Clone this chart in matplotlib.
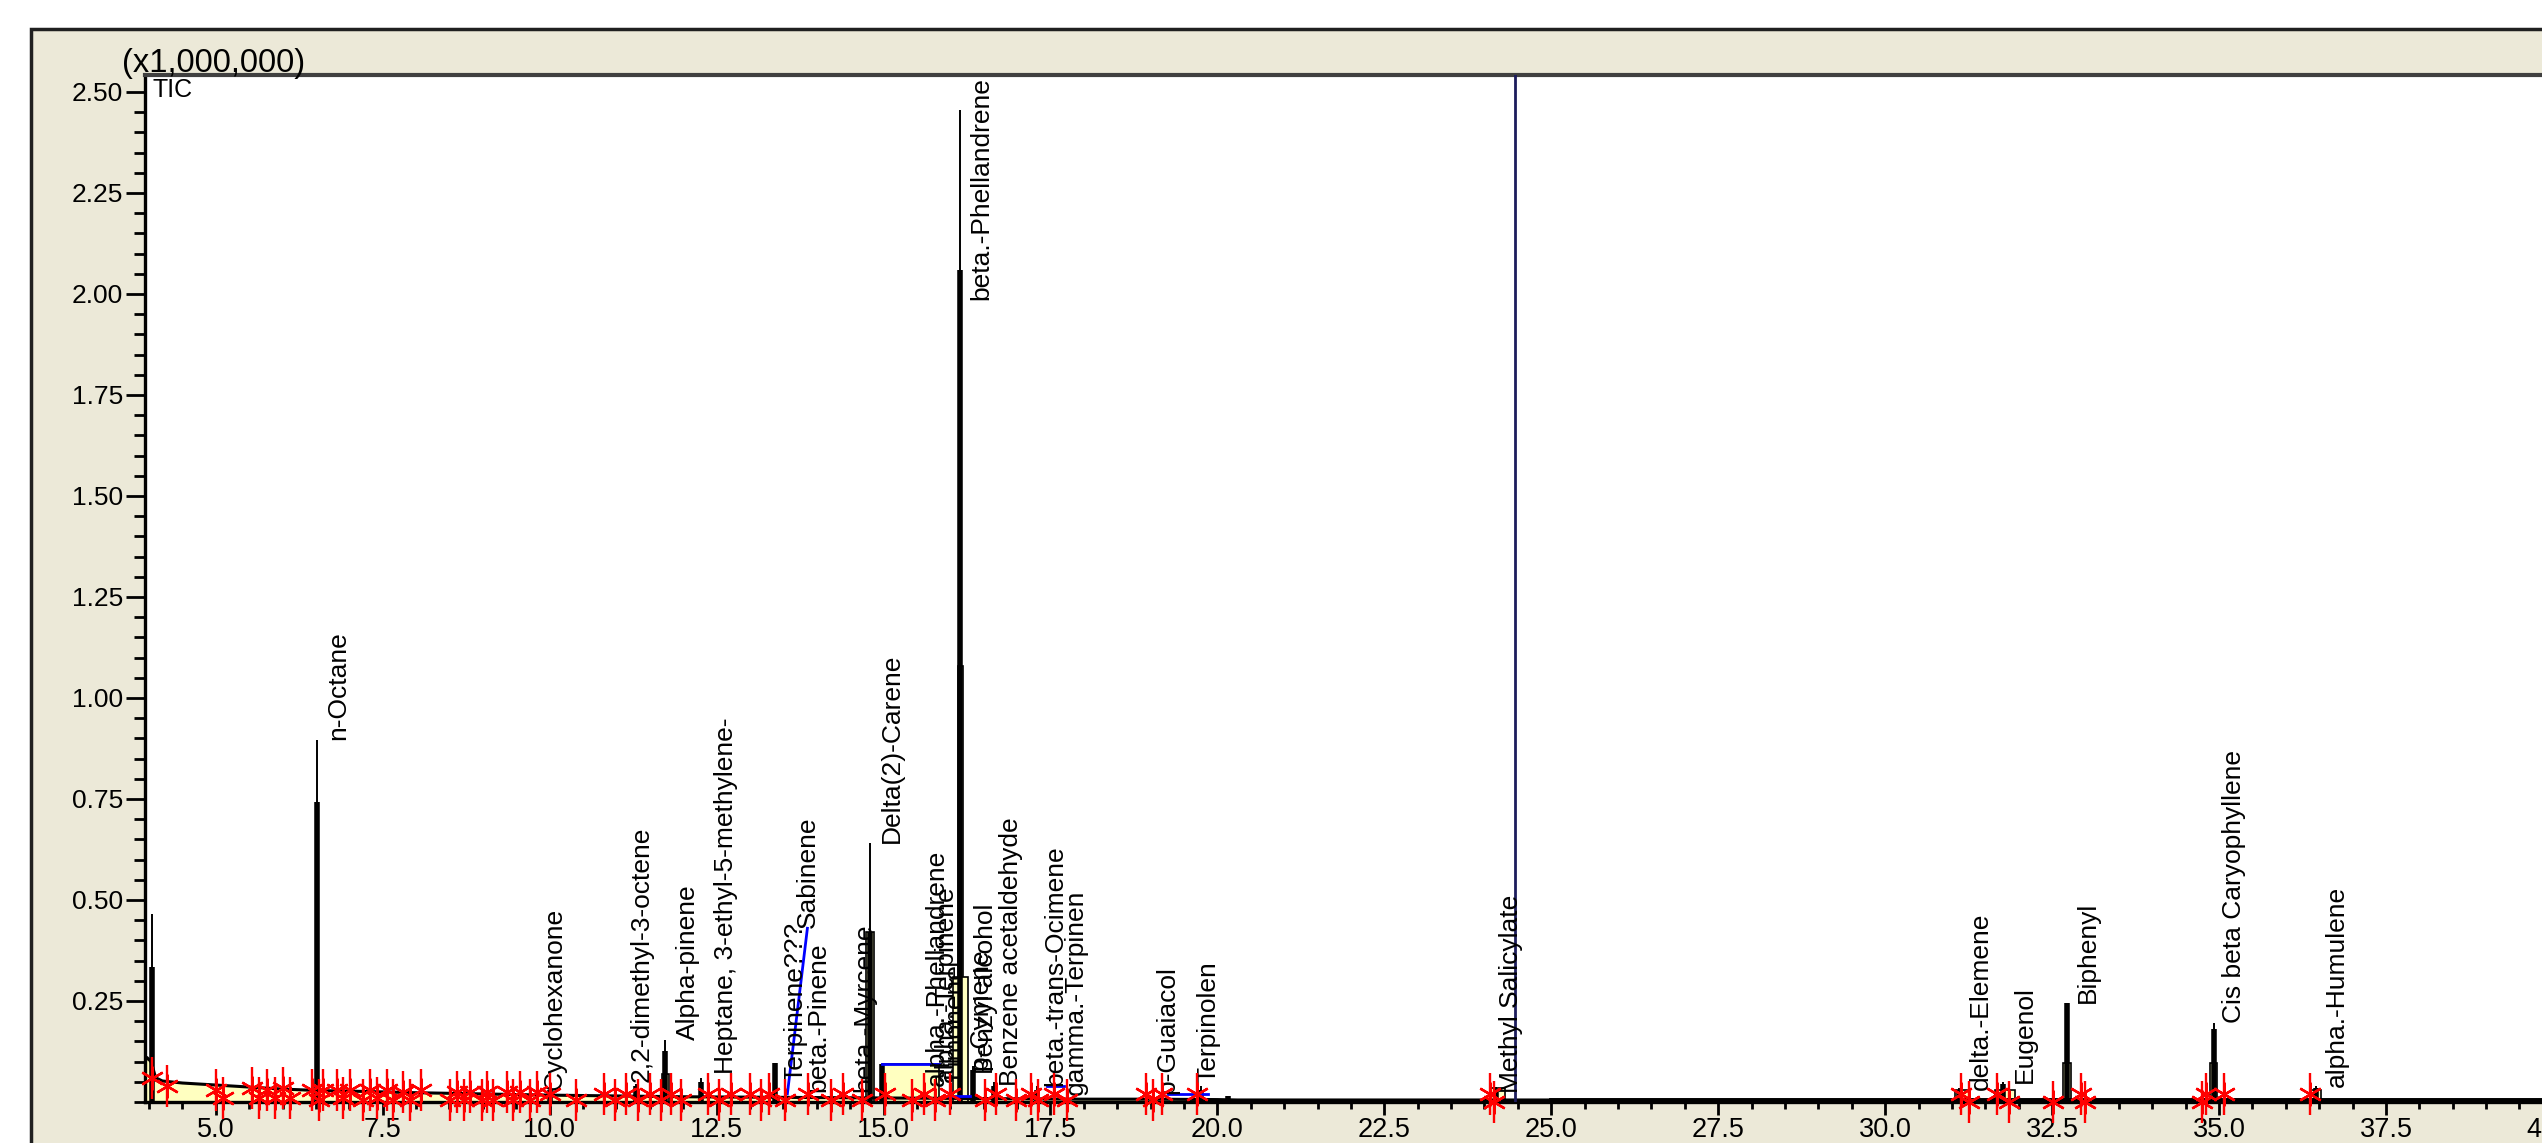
import matplotlib
matplotlib.use("Agg")
import matplotlib.pyplot as plt
from matplotlib.patches import Rectangle
from matplotlib.ticker import FixedLocator, MultipleLocator, FormatStrFormatter

plt.rcParams['font.family'] = ['Liberation Sans', 'DejaVu Sans']

# TIC baseline (retention time in min, intensity in millions)
base_t = [3.94, 3.97, 4.03, 4.10, 4.20, 4.50, 5.00, 5.50, 6.00, 6.60, 7.00, 8.00,
          9.00, 10.00, 11.00, 12.00, 13.00, 14.00, 15.00, 16.00, 17.00, 18.00,
          19.00, 20.00, 20.30, 22.50, 24.00, 25.00, 28.00, 30.00, 35.00, 40.60]
base_v = [0.100, 0.110, 0.100, 0.060, 0.052, 0.047, 0.042, 0.037, 0.032, 0.028, 0.027, 0.023,
          0.020, 0.017, 0.015, 0.013, 0.012, 0.011, 0.010, 0.009, 0.008, 0.007,
          0.007, 0.006, 0.005, 0.005, 0.005, 0.005, 0.005, 0.005, 0.005, 0.005]

# peaks: apex and the thick lower part of each spike
peak_t = [4.05, 6.52, 10.00, 11.30, 11.73, 12.27, 13.38, 14.80, 14.97, 16.15, 16.34,
          16.66, 17.30, 19.75, 20.16, 24.17, 31.11, 31.76, 32.72, 34.92, 36.46]
peak_apex = [0.465, 0.896, 0.030, 0.045, 0.153, 0.060, 0.096, 0.640, 0.094, 2.455, 0.090,
             0.050, 0.040, 0.040, 0.015, 0.037, 0.035, 0.050, 0.245, 0.195, 0.040]
peak_body = [0.335, 0.742, 0.030, 0.040, 0.125, 0.050, 0.096, 0.420, 0.094, 2.060, 0.080,
             0.040, 0.030, 0.030, 0.015, 0.030, 0.030, 0.045, 0.245, 0.180, 0.035]

# integrated areas (yellow)
area_t = [11.73, 14.80, 15.405, 16.15, 16.15, 24.20, 31.15, 31.80, 32.72, 34.92, 36.45]
area_h = [0.070, 0.420, 0.094, 1.080, 0.310, 0.035, 0.030, 0.030, 0.096, 0.096, 0.030]
area_w = [0.10, 0.12, 0.85, 0.08, 0.22, 0.20, 0.20, 0.30, 0.12, 0.10, 0.15]

# blue baseline segments
blue_t0 = [13.56, 14.98, 15.95, 17.45, 19.26]
blue_v0 = [0.020, 0.094, 0.015, 0.040, 0.020]
blue_t1 = [13.86, 15.83, 16.30, 17.70, 19.86]
blue_v1 = [0.430, 0.094, 0.015, 0.040, 0.020]

# peak start / end marks
mark_t = [4.04, 4.27, 5.01, 5.11, 5.54, 5.64, 5.76, 5.89, 6.01, 6.11, 6.44, 6.54, 6.61,
          6.81, 6.91, 7.01, 7.21, 7.31, 7.41, 7.56, 7.66, 7.81, 7.91, 8.08, 8.51, 8.61,
          8.71, 8.81, 8.98, 9.06, 9.15, 9.36, 9.45, 9.56, 9.71, 9.81, 10.00, 10.40,
          10.81, 10.98, 11.15, 11.33, 11.50, 11.67, 11.82, 11.96, 12.37, 12.54, 12.71,
          13.00, 13.17, 13.29, 13.52, 13.87, 14.21, 14.39, 14.68, 15.02, 15.42, 15.60,
          15.77, 16.00, 16.52, 16.69, 16.98, 17.21, 17.32, 17.55, 17.75, 18.93, 19.03,
          19.17, 19.70, 24.09, 24.14, 31.14, 31.25, 31.68, 31.85, 32.51, 32.94, 33.00,
          34.74, 34.80, 35.07, 36.37]
mark_v = [0.060, 0.040, 0.030, 0.010, 0.035, 0.010, 0.030, 0.010, 0.035, 0.010, 0.030, 0.005, 0.030,
          0.030, 0.010, 0.030, 0.005, 0.030, 0.010, 0.030, 0.005, 0.025, 0.005, 0.030, 0.005, 0.025,
          0.005, 0.025, 0.005, 0.025, 0.005, 0.025, 0.005, 0.025, 0.005, 0.025, 0.020, 0.005,
          0.020, 0.005, 0.020, 0.005, 0.020, 0.005, 0.020, 0.005, 0.020, 0.005, 0.020,
          0.020, 0.005, 0.020, 0.005, 0.020, 0.005, 0.020, 0.005, 0.020, 0.005, 0.020,
          0.005, 0.020, 0.005, 0.020, 0.005, 0.020, 0.005, 0.020, 0.005, 0.020, 0.005,
          0.020, 0.020, 0.020, 0.000, 0.020, 0.000, 0.020, 0.000, 0.000, 0.020, 0.000,
          0.000, 0.020, 0.020, 0.020]

# compound labels: text centre (min) and bottom of text (intensity)
label_name = ["n-Octane", "Cyclohexanone", "2,2-dimethyl-3-octene", "Alpha-pinene",
              "Heptane, 3-ethyl-5-methylene-", "Terpinene???", "Sabinene", "beta.-Pinene",
              "beta.-Myrcene", "Delta(2)-Carene", "alpha.-Phellandrene", "alpha.-Terpinene",
              "Limonene", "beta.-Phellandrene", "p-Cymene", "Benzyl alcohol",
              "Benzene acetaldehyde", "beta.-trans-Ocimene", "gamma.-Terpinen", "p-Guaiacol",
              "Terpinolen", "Methyl Salicylate", "delta.-Elemene", "Eugenol", "Biphenyl",
              "Cis beta Caryophyllene", "alpha.-Humulene"]
label_t = [6.83, 10.08, 11.38, 12.07, 12.64, 13.68, 13.87, 14.02, 14.71, 15.12, 15.80, 15.93,
           16.05, 16.46, 16.45, 16.54, 16.91, 17.57, 17.88, 19.25, 19.87, 24.40, 31.43, 32.10,
           33.03, 35.23, 36.77]
label_v = [0.896, 0.030, 0.050, 0.153, 0.070, 0.050, 0.430, 0.025, 0.025, 0.640, 0.040, 0.050,
           0.060, 1.985, 0.080, 0.070, 0.040, 0.040, 0.018, 0.020, 0.046, 0.022, 0.030, 0.046,
           0.245, 0.195, 0.037]

yellow = '#FFFFC0'

fig = plt.figure(figsize=(25.42, 11.43), dpi=100)
fig.patch.set_facecolor('white')
panel = Rectangle((0.0122, -0.05), 1.1, 1.0246, transform=fig.transFigure,
                  facecolor='#ECE9D8', edgecolor='#202020', linewidth=2.5, zorder=-10)
fig.add_artist(panel)

ax = fig.add_axes([0.05704, 0.03587, 0.9630, 0.8985])
ax.set_zorder(1)
ax.set_facecolor('white')

# filled area under the early baseline
early = [i for i, t in enumerate(base_t) if t <= 20.3]
ax.fill_between([base_t[i] for i in early], 0, [base_v[i] for i in early],
                color=yellow, zorder=1, linewidth=0)
ax.plot(base_t, base_v, color='black', lw=2.2, zorder=3)
late_t = [t for t in base_t if t >= 24.6]
ax.plot(late_t, [0.004] * len(late_t), color='black', lw=3.5, zorder=3)

ax.bar(area_t, area_h, width=area_w, color=yellow, edgecolor='black', linewidth=1.2, zorder=2)

ax.vlines(peak_t, 0, peak_body, color='black', lw=4, zorder=4)
ax.vlines(peak_t, 0, peak_apex, color='black', lw=1.4, zorder=4)

for t0, v0, t1, v1 in zip(blue_t0, blue_v0, blue_t1, blue_v1):
    ax.plot([t0, t1], [v0, v1], color='#0000FF', lw=2, zorder=5)

# Methyl Salicylate trace (off scale)
ax.axvline(24.45, color='#1C1C5C', lw=2, zorder=5)

for name, t, v in zip(label_name, label_t, label_v):
    ax.text(t, v, name, rotation=90, ha='center', va='bottom', fontsize=19,
            color='black', zorder=6)

ax.plot(mark_t, mark_v, linestyle='none', marker='|', markersize=30, mew=1.7,
        color='#FF0000', zorder=7, clip_on=False)
ax.plot(mark_t, mark_v, linestyle='none', marker=(6, 2, 0), markersize=17, mew=1.7,
        color='#FF0000', zorder=7, clip_on=False)

ax.set_xlim(3.94, 40.6)
ax.set_ylim(0, 2.542)

ax.xaxis.set_major_locator(FixedLocator([5.0 + 2.5 * i for i in range(15)]))
ax.xaxis.set_minor_locator(MultipleLocator(0.5))
ax.xaxis.set_major_formatter(FormatStrFormatter('%.1f'))
ax.yaxis.set_major_locator(FixedLocator([0.25 * i for i in range(1, 11)]))
ax.yaxis.set_minor_locator(MultipleLocator(0.05))
ax.yaxis.set_major_formatter(FormatStrFormatter('%.2f'))

ax.tick_params(axis='x', which='major', length=9, width=2, labelsize=19.5, pad=2, direction='out')
ax.tick_params(axis='x', which='minor', length=5, width=2, direction='out')
ax.tick_params(axis='y', which='major', length=14, width=2, labelsize=19, pad=2, direction='out')
ax.tick_params(axis='y', which='minor', length=8, width=2, direction='out')

for side in ['left', 'bottom']:
    ax.spines[side].set_linewidth(2.4)
    ax.spines[side].set_color('black')
ax.spines['top'].set_linewidth(3)
ax.spines['top'].set_color('#404040')
ax.spines['right'].set_visible(False)

ax.text(0.003, 0.997, 'TIC', transform=ax.transAxes, ha='left', va='top', fontsize=18)
fig.text(122 / 2542, 1 - 72 / 1143, '(x1,000,000)', ha='left', va='baseline', fontsize=23.5)

fig.savefig('out.png', dpi=100)
